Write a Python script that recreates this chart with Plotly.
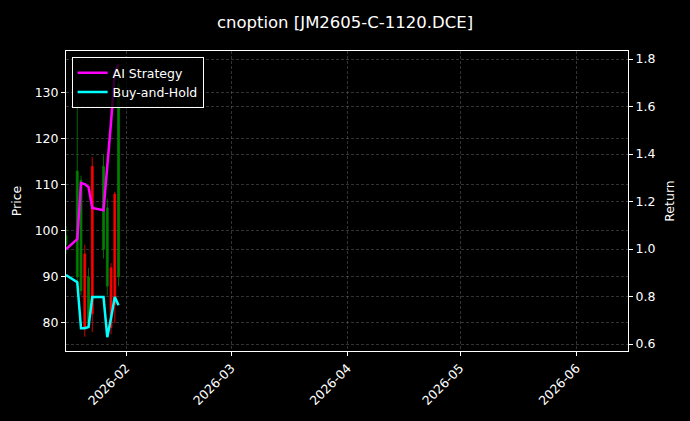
import plotly.graph_objects as go

# trading days shown in the chart
dates = ['2026-01-16', '2026-01-19', '2026-01-20', '2026-01-21', '2026-01-22', '2026-01-23',
         '2026-01-26', '2026-01-27', '2026-01-28', '2026-01-29', '2026-01-30']

# option price candles
open_ = [97, 90, 87, 95, 80, 114, 96, 88, 92, 108, 90]
high = [101, 128, 112, 97, 92, 116, 116.5, 107, 93, 108.5, 136]
low = [95, 88, 86, 77, 79, 78, 94, 86, 77.5, 80, 88]
close = [99, 113, 111, 79, 90, 82, 114, 105, 79, 84, 132]

# cumulative returns
ai_strategy = [1.0, 1.042, 1.278, 1.274, 1.261, 1.173, 1.164, 1.341, 1.535, 1.745, 1.777]
buy_and_hold = [0.891, 0.861, 0.667, 0.667, 0.672, 0.798, 0.798, 0.629, 0.71, 0.798, 0.764]

price_ticks = [80, 90, 100, 110, 120, 130]
return_ticks = [0.6, 0.8, 1.0, 1.2, 1.4, 1.6, 1.8]

font = 'DejaVu Sans'
grid = 'rgba(128,128,128,0.4)'
axis_style = dict(showline=True, linecolor='white', linewidth=1,
                  ticks='outside', tickcolor='white', ticklen=4,
                  showgrid=True, gridcolor=grid, griddash='3px,2px', gridwidth=0.6,
                  zeroline=False, tickfont=dict(size=12.5))

fig = go.Figure()
fig.add_trace(go.Candlestick(
    x=dates, open=open_, high=high, low=low, close=close,
    increasing=dict(line=dict(color='green', width=0.8), fillcolor='green'),
    decreasing=dict(line=dict(color='red', width=0.8), fillcolor='red'),
    whiskerwidth=0, showlegend=False, hoverinfo='skip'))
fig.add_trace(go.Scatter(x=dates, y=ai_strategy, name='AI Strategy', yaxis='y2',
                         mode='lines', line=dict(color='magenta', width=2.5)))
fig.add_trace(go.Scatter(x=dates, y=buy_and_hold, name='Buy-and-Hold', yaxis='y2',
                         mode='lines', line=dict(color='cyan', width=2.5)))

fig.update_layout(
    width=690, height=421,
    margin=dict(l=66, r=62, t=51, b=70),
    paper_bgcolor='black', plot_bgcolor='black',
    font=dict(family=font, color='white', size=12.5),
    title=dict(text='cnoption [JM2605-C-1120.DCE]', x=0.5, xanchor='center',
               y=1 - 22 / 421, yanchor='middle', font=dict(size=16.5, color='white')),
    showlegend=True,
    legend=dict(x=0.01, y=0.98, xanchor='left', yanchor='top',
                bgcolor='rgba(0,0,0,0.8)', bordercolor='white', borderwidth=1,
                font=dict(size=12.5, color='white'), tracegroupgap=0),
    xaxis=dict(type='date', range=['2026-01-16', '2026-06-14 18:00'],
               rangeslider=dict(visible=False), mirror=True,
               tick0='2026-02-01', dtick='M1', tickformat='%Y-%m', tickangle=-45,
               **axis_style),
    yaxis=dict(title=dict(text='Price', standoff=10, font=dict(size=12.5)),
               range=[73.9, 139.1], tickvals=price_ticks, mirror=True, **axis_style),
    yaxis2=dict(title=dict(text='Return', standoff=10, font=dict(size=12.5)),
                range=[0.571, 1.834], tickvals=return_ticks, tickformat='.1f',
                overlaying='y', side='right', **axis_style),
)

fig.write_html('out.html', config={'displayModeBar': False})

# black page with no body margin, like the saved figure
with open('out.html', encoding='utf-8') as f:
    html = f.read()
html = html.replace('<body>', '<body style="margin:0;background:black;">', 1)
with open('out.html', 'w', encoding='utf-8') as f:
    f.write(html)
